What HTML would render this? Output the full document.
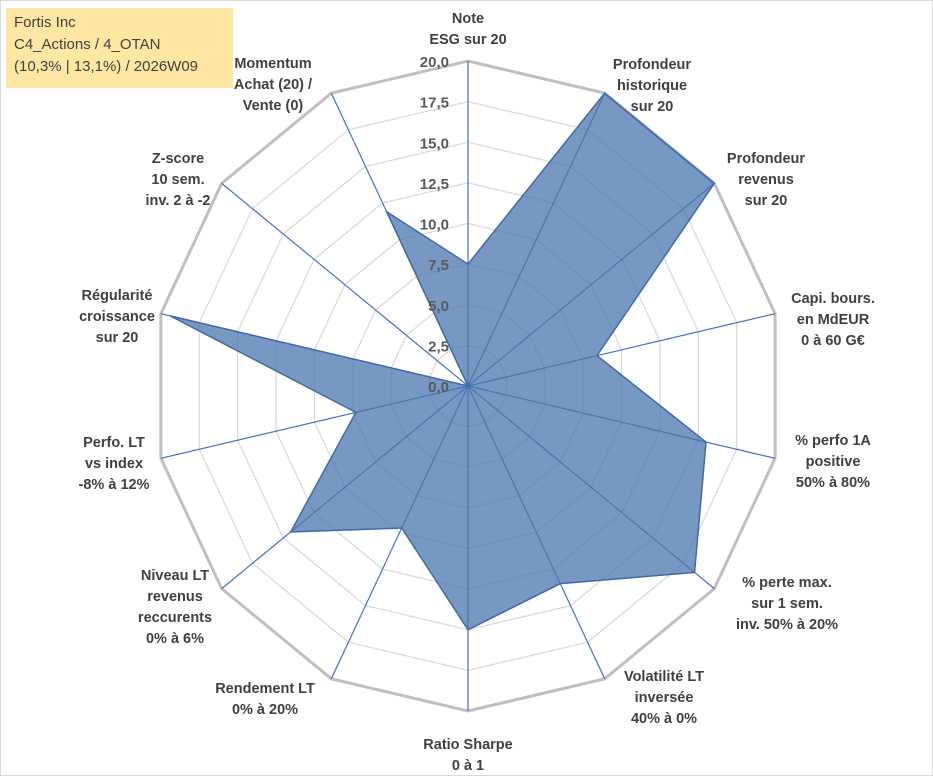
<!DOCTYPE html>
<html><head><meta charset="utf-8"><style>
body{margin:0;background:#fff;font-family:"Liberation Sans",sans-serif}
#wrap{position:relative;width:933px;height:776px;overflow:hidden;background:#fff}
#info{position:absolute;left:6px;top:8px;width:227px;height:80px;background:#ffe7a3;font-size:15px;line-height:22px;color:#404040;padding:4px 0 0 8px;box-sizing:border-box}
</style></head><body>
<div id="wrap">
<div id="info">Fortis Inc<br>C4_Actions / 4_OTAN<br>(10,3% | 13,1%) / 2026W09</div>
<svg id="svg" width="933" height="776" style="position:absolute;left:0;top:0"></svg>
</div>
<script>
const categories=[["Note","ESG sur 20"],["Profondeur","historique","sur 20"],["Profondeur","revenus","sur 20"],["Capi. bours.","en MdEUR","0 à 60 G€"],["% perfo 1A","positive","50% à 80%"],["% perte max.","sur 1 sem.","inv. 50% à 20%"],["Volatilité LT","inversée","40% à 0%"],["Ratio Sharpe","0 à 1"],["Rendement LT","0% à 20%"],["Niveau LT","revenus","reccurents","0% à 6%"],["Perfo. LT","vs index","-8% à 12%"],["Régularité","croissance","sur 20"],["Z-score","10 sem.","inv. 2 à -2"],["Momentum","Achat (20) /","Vente (0)"]];
const values=[7.5,20,20,8.4,15.5,18.4,13.5,15,9.7,14.4,7.3,19.4,0,11.9];
const ticks=["0,0","2,5","5,0","7,5","10,0","12,5","15,0","17,5","20,0"];
const labelPos=[[468,10,"middle"],[652,56,"middle"],[766,150,"middle"],[833,290,"middle"],[833,432,"middle"],[787,574,"middle"],[664,668,"middle"],[468,736,"middle"],[265,680,"middle"],[175,567,"middle"],[114,434,"middle"],[117,287,"middle"],[178,150,"middle"],[273,55,"middle"]];
const NS="http://www.w3.org/2000/svg",svg=document.getElementById('svg');
const cx=468,cy=386,RX=315,RY=325,maxV=20,n=categories.length;
function pt(i,v){const a=i*2*Math.PI/n;const f=v/maxV;return [cx+f*RX*Math.sin(a),cy-f*RY*Math.cos(a)];}
function mk(t,at){const e=document.createElementNS(NS,t);for(const k in at)e.setAttribute(k,at[k]);svg.appendChild(e);return e;}
ticks.forEach((t,k)=>{if(k==0)return;const v=k*2.5;const p=[];for(let i=0;i<n;i++)p.push(pt(i,v).join(','));
 const g=mk('polygon',{points:p.join(' '),fill:'none',stroke:k==8?'#bfbfbf':'#d9d9d9','stroke-width':k==8?3:1.3});
 
 });
for(let i=0;i<n;i++){const e=pt(i,maxV);const l=mk('line',{x1:cx,y1:cy,x2:e[0],y2:e[1],stroke:'#4472c4','stroke-width':1.2});
 
 }
const poly=mk('polygon',{points:values.map((v,i)=>pt(i,v).join(',')).join(' '),fill:'#4a76ad','fill-opacity':0.75,stroke:'#3f6aa6','stroke-width':1.5});


ticks.forEach((t,k)=>{const y=cy-k*2.5/maxV*RY;const tx=mk('text',{x:449,y:y+6,'text-anchor':'end','font-size':15,'font-weight':'bold',fill:'#595959'});tx.textContent=t;
 
 });
categories.forEach((c,i)=>{const [x,y,an]=labelPos[i];const tx=mk('text',{x:x,y:y+13,'text-anchor':an,'font-size':14.5,'font-weight':'bold',fill:'#404040'});
 c.forEach((s,j)=>{const ts=document.createElementNS(NS,'tspan');ts.setAttribute('x',x);ts.setAttribute('dy',j?21:0);ts.textContent=s;tx.appendChild(ts);});
 
 });
const b=mk('rect',{x:0.5,y:0.5,width:932,height:775,fill:'none',stroke:'#d9d9d9'});


</script>
</body></html>
